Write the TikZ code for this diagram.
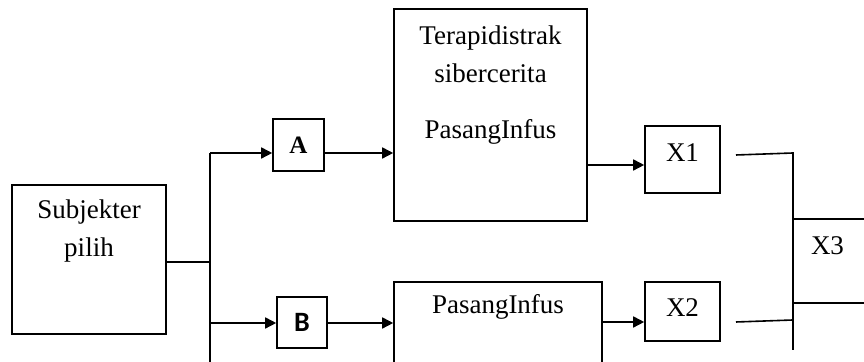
\documentclass[tikz,border=0pt]{standalone}
\usepackage{fontspec}
\setmainfont{Liberation Serif}
\newfontfamily\calibri{Carlito}
\usetikzlibrary{arrows.meta}

\begin{document}
\begin{tikzpicture}[x=0.5pt,y=-0.5pt,line width=0.8pt,
    >={Triangle[length=5.5pt,width=5.5pt]},
    box/.style={draw,inner sep=0pt},
    txt/.style={font=\fontsize{13.5}{19}\selectfont,align=center,inner sep=0pt}]
      \useasboundingbox (0,0) rectangle (864,362);
      \clip (0,0) rectangle (864,362);
      % boxes
      \node[box,minimum width=77pt,minimum height=74.5pt] (subj) at (89,259.5) {};
      \node[txt] (subjtxt) at (89,231) {Subjekter\\pilih};
      \node[box,minimum width=25.5pt,minimum height=26pt,font=\bfseries\fontsize{12.5}{14}\selectfont] (a) at (298.5,145) {A};
      \node[box,minimum width=25pt,minimum height=25.5pt,font=\calibri\bfseries\fontsize{14}{16}\selectfont] (b) at (302,322.5) {B};
      \node[box,minimum width=96.5pt,minimum height=106pt] (terapi) at (490.5,115) {};
      \node[txt] (terapitxt) at (490.5,54) {Terapidistrak\\sibercerita};
      \node[txt] (infus1) at (490.5,132) {PasangInfus};
      \node[box,minimum width=104pt,minimum height=54pt] (pasang) at (498,336) {};
      \node[txt] (infus2) at (498,307) {PasangInfus};
      \node[box,minimum width=37.5pt,minimum height=33.5pt] (x1) at (682.5,159.5) {};
      \node[txt] (x1txt) at (682.5,153) {X1};
      \node[box,minimum width=37.5pt,minimum height=29.5pt] (x2) at (682.5,311.5) {};
      \node[txt] (x2txt) at (682.5,308) {X2};
      \node[box,minimum width=47pt,minimum height=42pt] (x3) at (840,261) {};
      \node[txt] (x3txt) at (827.5,246) {X3};
      % left split
      \coordinate (split) at (210,262);
      \coordinate (splittop) at (210,153);
      \coordinate (splitbot) at (210,372);
      \coordinate (rowb) at (210,323);
      \draw (subj.east |- split) -- (split);
      \draw (splittop) -- (splitbot);
      \draw[->] (splittop) -- (splittop -| a.west);
      \draw[->] (a.east |- splittop) -- (splittop -| terapi.west);
      \draw[->] (rowb) -- (rowb -| b.west);
      \draw[->] (b.east |- rowb) -- (rowb -| pasang.west);
      % to X1, X2
      \coordinate (rowx1) at (600,165);
      \coordinate (rowx2) at (600,322);
      \draw[->] (terapi.east |- rowx1) -- (rowx1 -| x1.west);
      \draw[->] (pasang.east |- rowx2) -- (rowx2 -| x2.west);
      % right join
      \coordinate (x1end) at (736,155);
      \coordinate (x2end) at (736,322);
      \coordinate (jtop) at (793,153);
      \coordinate (jmid) at (793,320);
      \coordinate (jbot) at (793,350);
      \draw (x1end) -- (jtop) -- (jbot);
      \draw (x2end) -- (jmid);
\end{tikzpicture}
\end{document}
